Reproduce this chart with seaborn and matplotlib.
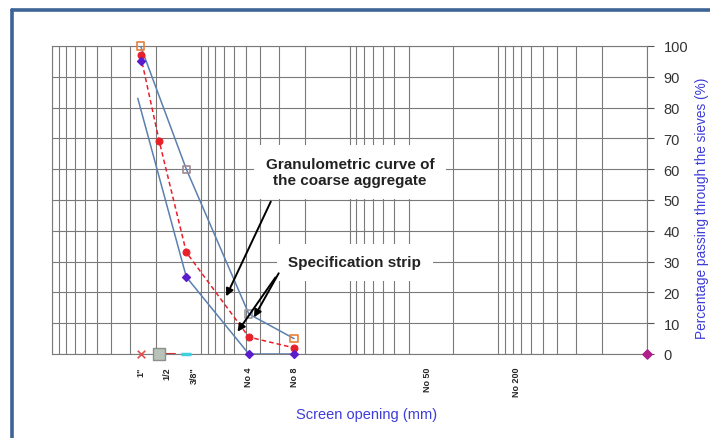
import matplotlib
matplotlib.use('Agg')
import matplotlib.pyplot as plt
from matplotlib.lines import Line2D
from matplotlib.ticker import LogLocator, NullFormatter
import pandas as pd
import seaborn as sns

# sieve sizes (mm) and percentage passing
agg_size=[25.4,19.0,12.5,4.75,2.36]
agg_pct=[97,69,33,5.5,2]

upper_size=[25.4,12.5,4.75,2.36]
upper_pct=[100,60,13,5]

lower_size=[26.5,12.5,4.75,2.36]
lower_pct=[83,25,0,0]

purple_size=[25.4,12.5,4.75,2.36,0.01]
purple_pct=[95,25,0,0,0]

zero_size=[25.4,19.0,12.5]
zero_pct=[0,0,0]

tick_pos=[25.4,17.0,11.0,4.75,2.36,0.3,0.075]
tick_lab=['1"','1/2','3/8"','No 4','No 8','No 50','No 200']

sns.set_theme(style='white')
plt.rcParams['font.family']=['Liberation Sans','DejaVu Sans']

fig=plt.figure(figsize=(7.1,4.39),dpi=100)
ax=fig.add_axes([52/710,1-355/439,595/710,308/439])

ax.set_xscale('log')
ax.set_xlim(100,0.01)
ax.set_ylim(0,100)

# log grid
ax.xaxis.set_minor_locator(LogLocator(base=10,subs=range(1,10),numticks=50))
ax.xaxis.set_minor_formatter(NullFormatter())
ax.grid(which='minor',axis='x',color='#7a7a7a',lw=0.8)
ax.set_yticks(range(0,101,10))
ax.grid(which='major',axis='y',color='#7a7a7a',lw=0.8)
ax.set_axisbelow(True)

df=pd.DataFrame({'size':agg_size,'pct':agg_pct})
up=pd.DataFrame({'size':upper_size,'pct':upper_pct})
lo=pd.DataFrame({'size':lower_size,'pct':lower_pct})
pu=pd.DataFrame({'size':purple_size,'pct':purple_pct})

sns.lineplot(data=up,x='size',y='pct',color='#5b80b0',lw=1.1,ax=ax,sort=False)
sns.lineplot(data=lo,x='size',y='pct',color='#5b80b0',lw=1.1,ax=ax,sort=False)
sns.lineplot(data=df,x='size',y='pct',color='#e8202a',lw=1.1,ax=ax,sort=False,
             linestyle=(0,(3,2)),marker='o',markersize=5,markeredgecolor='#e8202a')
ax.scatter(up['size'],up['pct'],marker='s',s=26,facecolor='none',
           edgecolors=['#e8803a','#a08890','#9a9aa0','#e8803a'],lw=1.2,zorder=4,clip_on=False)
ax.scatter(pu['size'],pu['pct'],marker='D',s=16,color='#5a1ccc',zorder=4,clip_on=False)
ax.scatter(pu['size'].iloc[-1:],pu['pct'].iloc[-1:],marker='D',s=22,color='#b0208a',zorder=5,clip_on=False)

ax.scatter([zero_size[0]],[zero_pct[0]],marker='x',s=30,color='#e05050',lw=1.2,zorder=4,clip_on=False)
ax.plot([zero_size[1],15.0],[0,0],color='#d03030',lw=1.5,zorder=3)
ax.scatter([zero_size[1]],[zero_pct[1]],marker='s',s=75,color='#b8c2b8',edgecolors='#8a908a',zorder=4,clip_on=False)
ax.scatter([zero_size[2]],[zero_pct[2]],marker='_',s=60,color='#40d0e0',lw=2.5,zorder=4,clip_on=False)

ax.set_xticks(tick_pos)
ax.set_xticklabels(tick_lab,rotation=90,fontsize=6.5,fontweight='bold',va='top')
ax.tick_params(axis='x',which='both',length=0,pad=9)
ax.yaxis.tick_right()
ax.tick_params(axis='y',which='major',direction='out',length=5,width=0.8,color='#555555',
               labelsize=10.5,pad=7,right=True,left=False,labelcolor='#333333')
for s in ax.spines.values():
    s.set_color('#7a7a7a')
    s.set_linewidth(0.8)

ax.set_xlabel('Screen opening (mm)',color='#3c3cd8',fontsize=10.5)
ax.xaxis.set_label_coords((367-52)/595,-(408-355)/308)
ax.set_ylabel('Percentage passing through the sieves (%)',color='#3c3cd8',fontsize=9.8,rotation=90)
ax.yaxis.set_label_position('right')
ax.yaxis.set_label_coords(1.081,0.477)

box=dict(boxstyle='square,pad=0.75',fc='white',ec='none')
ax.text(0.501,0.591,'Granulometric curve of\nthe coarse aggregate',transform=ax.transAxes,
        ha='center',va='center',fontsize=11,fontweight='bold',color='#222222',bbox=box,zorder=6,linespacing=1.25)
ax.text(0.509,0.298,'Specification strip',transform=ax.transAxes,
        ha='center',va='center',fontsize=11,fontweight='bold',color='#222222',bbox=box,zorder=6)

arr=dict(arrowstyle='-|>',color='black',lw=1.4,mutation_scale=11)
ax.annotate('',xy=(6.87,17.9),xytext=(3.32,50.3),arrowprops=arr,zorder=7)
ax.annotate('',xy=(5.8,6.5),xytext=(3.07,25.6),arrowprops=arr,zorder=7)
ax.annotate('',xy=(4.48,11.1),xytext=(2.93,27.0),arrowprops=arr,zorder=7)

# frame of the picture
fig.add_artist(Line2D([12/710,12/710],[0,1-11/439],transform=fig.transFigure,color='#3d6496',lw=2.6))
fig.add_artist(Line2D([12/710,1],[1-11/439,1-11/439],transform=fig.transFigure,color='#3d6496',lw=2.6))

fig.savefig('out.png',dpi=100)
